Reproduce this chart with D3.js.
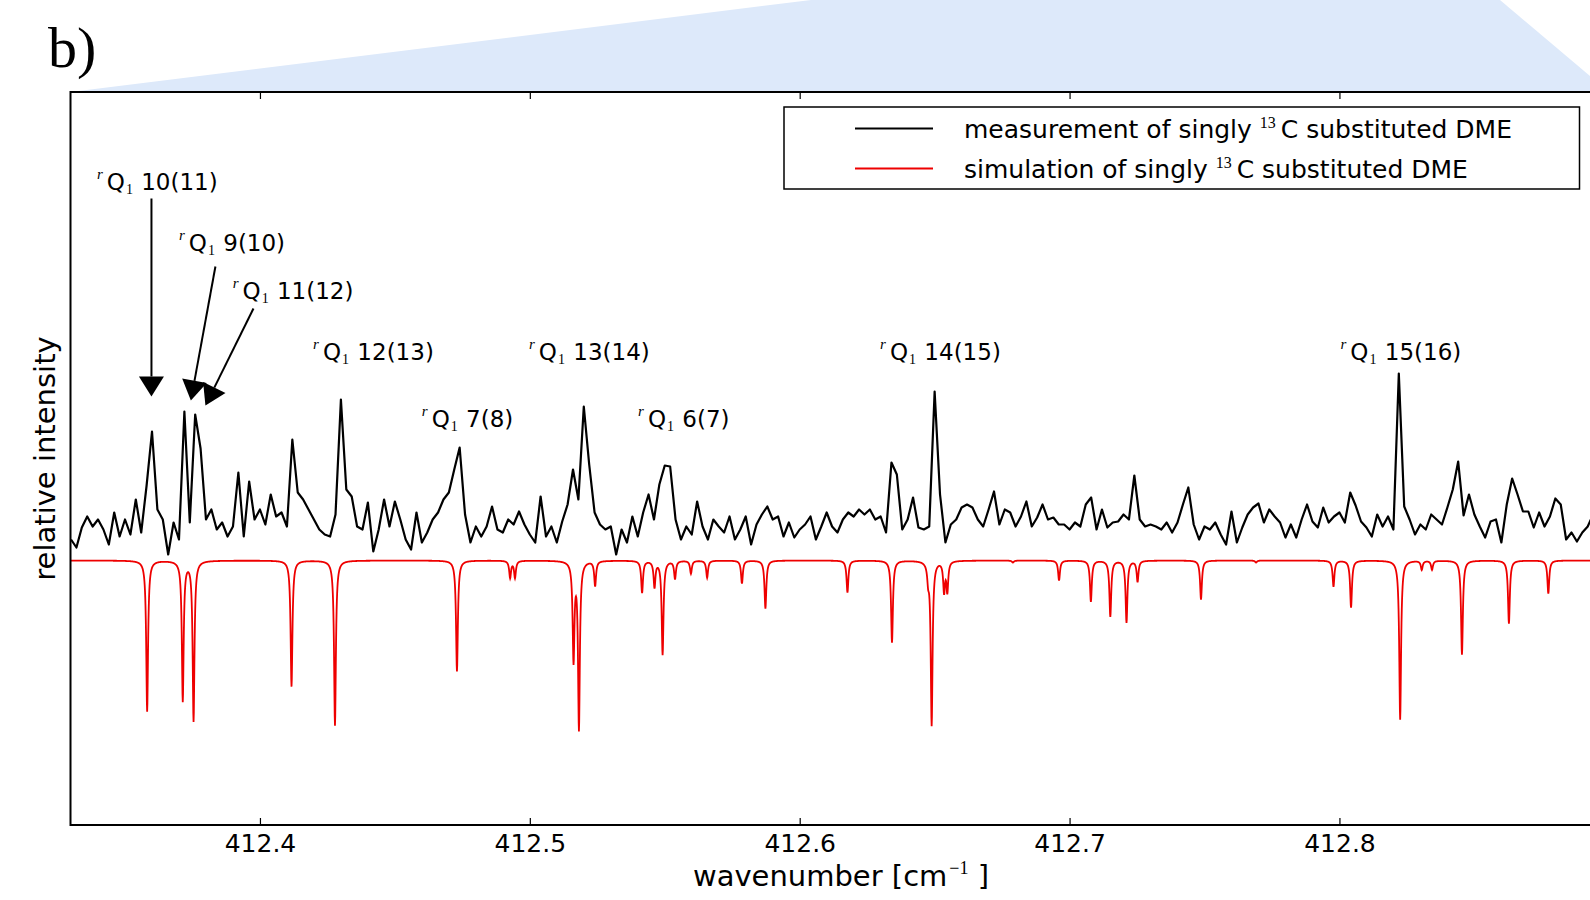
<!DOCTYPE html>
<html>
<head>
<meta charset="utf-8">
<script src="https://cdn.jsdelivr.net/npm/d3@7/dist/d3.min.js"></script>
<style>
  body { margin: 0; background: #fff; }
  svg { display: block; }
  text { font-family: "DejaVu Sans", sans-serif; fill: #000; }
</style>
</head>
<body>
<div id="chart"></div>
<script>
// measured spectrum, sampled on an even wavenumber grid
var measStart = 412.330;
var measStep = 0.002;
var measValues = [
    0.21, 0.13, 0.33, 0.44, 0.34, 0.41, 0.31, 0.16, 0.48, 0.24,
    0.41, 0.26, 0.61, 0.28, 0.75, 1.29, 0.51, 0.41, 0.06, 0.38,
    0.21, 1.49, 0.38, 1.46, 1.12, 0.41, 0.51, 0.31, 0.38, 0.24,
    0.34, 0.88, 0.24, 0.79, 0.41, 0.51, 0.36, 0.66, 0.44, 0.48,
    0.34, 1.21, 0.68, 0.61, 0.51, 0.41, 0.31, 0.26, 0.24, 0.46,
    1.61, 0.71, 0.64, 0.34, 0.31, 0.58, 0.09, 0.31, 0.61, 0.34,
    0.59, 0.41, 0.21, 0.11, 0.48, 0.18, 0.28, 0.41, 0.48, 0.61,
    0.68, 0.91, 1.13, 0.46, 0.18, 0.34, 0.24, 0.34, 0.54, 0.31,
    0.28, 0.41, 0.36, 0.49, 0.36, 0.26, 0.18, 0.64, 0.24, 0.34,
    0.18, 0.39, 0.56, 0.91, 0.61, 1.54, 0.96, 0.48, 0.36, 0.31,
    0.34, 0.06, 0.31, 0.18, 0.44, 0.24, 0.48, 0.66, 0.41, 0.76,
    0.95, 0.94, 0.41, 0.21, 0.34, 0.26, 0.59, 0.34, 0.21, 0.41,
    0.34, 0.28, 0.44, 0.21, 0.31, 0.44, 0.16, 0.36, 0.46, 0.54,
    0.41, 0.44, 0.24, 0.38, 0.23, 0.31, 0.36, 0.44, 0.21, 0.34,
    0.48, 0.34, 0.28, 0.41, 0.48, 0.44, 0.51, 0.46, 0.51, 0.41,
    0.44, 0.28, 0.98, 0.86, 0.31, 0.41, 0.63, 0.33, 0.31, 0.34,
    1.69, 0.66, 0.18, 0.36, 0.41, 0.53, 0.56, 0.53, 0.41, 0.34,
    0.51, 0.69, 0.36, 0.51, 0.48, 0.34, 0.44, 0.59, 0.34, 0.43,
    0.56, 0.41, 0.43, 0.36, 0.36, 0.31, 0.38, 0.34, 0.56, 0.63,
    0.31, 0.51, 0.33, 0.38, 0.39, 0.46, 0.41, 0.85, 0.41, 0.34,
    0.36, 0.34, 0.31, 0.38, 0.28, 0.38, 0.56, 0.73, 0.36, 0.21,
    0.34, 0.31, 0.38, 0.26, 0.16, 0.49, 0.18, 0.33, 0.46, 0.53,
    0.57, 0.38, 0.51, 0.44, 0.38, 0.23, 0.36, 0.23, 0.41, 0.56,
    0.39, 0.33, 0.53, 0.38, 0.44, 0.48, 0.38, 0.68, 0.55, 0.39,
    0.33, 0.24, 0.46, 0.34, 0.44, 0.31, 1.87, 0.54, 0.41, 0.26,
    0.36, 0.31, 0.46, 0.41, 0.36, 0.53, 0.71, 0.99, 0.45, 0.66,
    0.46, 0.34, 0.23, 0.39, 0.41, 0.18, 0.56, 0.82, 0.66, 0.49,
    0.49, 0.33, 0.48, 0.34, 0.44, 0.62, 0.56, 0.21, 0.28, 0.19,
    0.28, 0.34, 0.46
];

// simulated line list (centre in cm-1, depth below zero)
var simCentres = [
    412.3582, 412.3714, 412.3754, 412.4117, 412.4278, 412.4730, 412.4927, 412.4945,
    412.5162, 412.5182, 412.5242, 412.5416, 412.5462, 412.5492, 412.5538, 412.5597,
    412.5657, 412.5786, 412.5873, 412.6177, 412.6342, 412.6476, 412.6489, 412.6535,
    412.6547, 412.6790, 412.6961, 412.7079, 412.7151, 412.7211, 412.7252, 412.7487,
    412.7691, 412.7978, 412.8043, 412.8225, 412.8305, 412.8343, 412.8454, 412.8628,
    412.8774
];
var simDepths = [
    1.51, 1.40, 1.60, 1.26, 1.65, 1.11, 0.17, 0.17,
    0.98, 1.67, 0.25, 0.32, 0.26, 0.94, 0.18, 0.13,
    0.17, 0.23, 0.48, 0.32, 0.82, 0.15, 1.64, 0.30,
    0.30, 0.02, 0.20, 0.41, 0.56, 0.62, 0.21, 0.39,
    0.02, 0.26, 0.47, 1.59, 0.09, 0.09, 0.94, 0.63,
    0.33
];
var simHalfWidth = 0.0004;

var xTicks = [412.4, 412.5, 412.6, 412.7, 412.8];

// line assignments: label text anchor (wavenumber, intensity)
var labelNames = ["10(11)", "9(10)", "11(12)", "12(13)", "7(8)", "13(14)", "6(7)", "14(15)", "15(16)"];
var labelX = [412.3396, 412.3700, 412.3899, 412.4197, 412.4600, 412.4997, 412.5401, 412.6298, 412.8004];
var labelY = [3.71, 3.10, 2.62, 2.01, 1.34, 2.01, 1.34, 2.01, 2.01];

// arrows from the three crowded labels down to their peaks
var arrowFrom = [[412.3598, 3.62], [412.3835, 2.94], [412.3976, 2.52]];
var arrowTo = [[412.3598, 1.64], [412.3744, 1.60], [412.3798, 1.55]];

var legendNames = ["measurement of singly ", "simulation of singly "];
var legendColors = ["#000", "#e00"];

var W = 1590, H = 900;
var pLeft = 70.5, pRight = 1591.5, pTop = 92, pBottom = 825;

var svg = d3.select("#chart").append("svg").attr("width", W).attr("height", H);

// zoom-indicator wedge above the panel
svg.append("polygon")
    .attr("points", [[pLeft, pTop], [811, 0], [1500, 0], [1609, pTop]].join(" "))
    .attr("fill", "#dde9fa");

svg.append("text")
    .attr("x", 48).attr("y", 67)
    .style("font-family", "'Liberation Serif', 'Times New Roman', serif")
    .attr("font-size", 58)
    .text("b)");

var x = d3.scaleLinear().domain([412.3298, 412.8934]).range([pLeft, pRight]);
var y = d3.scaleLinear().domain([-2.645, 4.685]).range([pBottom, pTop]);

svg.append("defs").append("clipPath").attr("id", "plotclip")
    .append("rect").attr("x", pLeft).attr("y", pTop)
    .attr("width", pRight - pLeft).attr("height", pBottom - pTop);

svg.append("rect")
    .attr("x", pLeft).attr("y", pTop)
    .attr("width", pRight - pLeft).attr("height", pBottom - pTop)
    .attr("fill", "#fff");

var plotG = svg.append("g").attr("clip-path", "url(#plotclip)");

// simulation: line list with a Lorentzian profile
var simPts = [];
var n = Math.round((x.domain()[1] - x.domain()[0]) / 0.0001);
for (var k = 0; k <= n; k++) {
    var w = x.domain()[0] + k * 0.0001;
    var s = 0;
    for (var j = 0; j < simCentres.length; j++) {
        var u = (w - simCentres[j]) / simHalfWidth;
        s -= simDepths[j] / (1 + u * u);
    }
    simPts.push([w, s]);
}

var line = d3.line()
    .x(function(d) { return x(d[0]); })
    .y(function(d) { return y(d[1]); });

plotG.append("path")
    .datum(simPts)
    .attr("d", line)
    .attr("fill", "none")
    .attr("stroke", "#e00")
    .attr("stroke-width", 1.8);

var measPts = measValues.map(function(v, i) { return [measStart + i * measStep, v]; });

plotG.append("path")
    .datum(measPts)
    .attr("d", line)
    .attr("fill", "none")
    .attr("stroke", "#000")
    .attr("stroke-width", 2.2)
    .attr("stroke-linejoin", "round");

// axes: inward ticks top and bottom, no y ticks
var xAxis = svg.append("g")
    .attr("transform", "translate(0," + pBottom + ")")
    .call(d3.axisBottom(x).tickValues(xTicks).tickSize(-7).tickPadding(9)
        .tickFormat(d3.format(".1f")));
xAxis.select(".domain").remove();
xAxis.selectAll("text").attr("font-size", 25).style("font-family", "'DejaVu Sans'");
xAxis.selectAll("line").attr("stroke-width", 1.2);

var xTop = svg.append("g")
    .attr("transform", "translate(0," + pTop + ")")
    .call(d3.axisTop(x).tickValues(xTicks).tickSize(-7).tickFormat(""));
xTop.select(".domain").remove();
xTop.selectAll("line").attr("stroke-width", 1.2);

svg.append("rect")
    .attr("x", pLeft).attr("y", pTop)
    .attr("width", pRight - pLeft).attr("height", pBottom - pTop)
    .attr("fill", "none").attr("stroke", "#000").attr("stroke-width", 2);

// axis labels
var xl = svg.append("text")
    .attr("x", 841).attr("y", 886)
    .attr("text-anchor", "middle")
    .attr("font-size", 29);
xl.append("tspan").text("wavenumber [cm");
xl.append("tspan").attr("dy", -12).attr("dx", 2).attr("font-size", 18)
    .style("font-family", "'Liberation Serif', serif").text("\u22121");
xl.append("tspan").attr("dy", 12).text(" ]");

svg.append("text")
    .attr("transform", "translate(55," + ((pTop + pBottom) / 2) + ") rotate(-90)")
    .attr("text-anchor", "middle")
    .attr("font-size", 29)
    .text("relative intensity");

// annotations
labelNames.forEach(function(name, i) {
    var t = svg.append("text")
        .attr("x", x(labelX[i])).attr("y", y(labelY[i]))
        .attr("font-size", 23);
    t.append("tspan").attr("dy", -11).attr("font-size", 15)
        .style("font-family", "'Liberation Serif', serif").style("font-style", "italic").text("r");
    t.append("tspan").attr("dy", 11).attr("dx", 4).text("Q");
    t.append("tspan").attr("dy", 4).attr("dx", 1).attr("font-size", 14)
        .style("font-family", "'Liberation Serif', serif").text("1");
    t.append("tspan").attr("dy", -4).attr("dx", 1).text(" " + name);
});

arrowFrom.forEach(function(a, i) {
    var x1 = x(a[0]), y1 = y(a[1]);
    var x2 = x(arrowTo[i][0]), y2 = y(arrowTo[i][1]);
    var len = Math.sqrt((x2 - x1) * (x2 - x1) + (y2 - y1) * (y2 - y1));
    var dx = (x2 - x1) / len, dy = (y2 - y1) / len;
    var headLen = 20, headHalf = 12.5;
    var bx = x2 - dx * headLen, by = y2 - dy * headLen;
    svg.append("line")
        .attr("x1", x1).attr("y1", y1).attr("x2", bx).attr("y2", by)
        .attr("stroke", "#000").attr("stroke-width", 2);
    svg.append("polygon")
        .attr("points", [[x2, y2], [bx - dy * headHalf, by + dx * headHalf], [bx + dy * headHalf, by - dx * headHalf]].join(" "))
        .attr("fill", "#000");
});

// legend
var lg = svg.append("g");
lg.append("rect")
    .attr("x", 784).attr("y", 107)
    .attr("width", 1579.5 - 784).attr("height", 82)
    .attr("fill", "#fff").attr("stroke", "#000").attr("stroke-width", 1.5);
legendNames.forEach(function(name, i) {
    var ly = 128.5 + i * 40;
    lg.append("line")
        .attr("x1", 855).attr("x2", 933).attr("y1", ly).attr("y2", ly)
        .attr("stroke", legendColors[i]).attr("stroke-width", 2);
    var t = lg.append("text").attr("x", 964).attr("y", ly + 9).attr("font-size", 25);
    t.append("tspan").text(name);
    t.append("tspan").attr("dy", -10).attr("font-size", 16)
        .style("font-family", "'Liberation Serif', serif").text("13");
    t.append("tspan").attr("dy", 10).attr("dx", 5).text("C substituted DME");
});
</script>
</body>
</html>
